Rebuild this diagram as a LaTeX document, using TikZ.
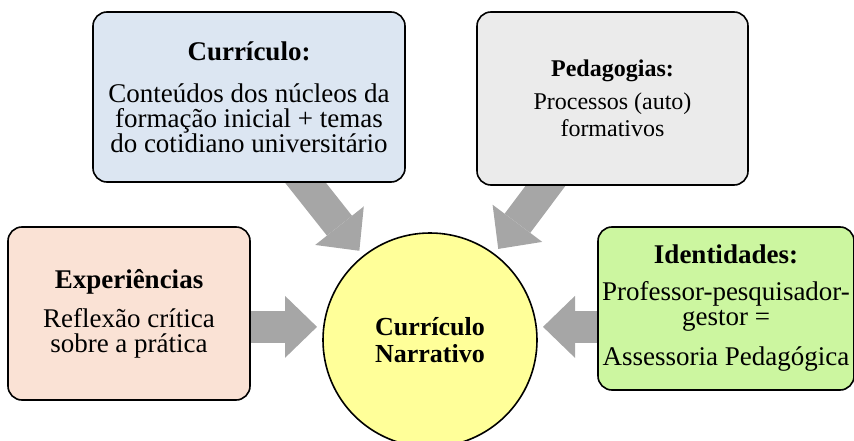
\documentclass[tikz,border=0pt]{standalone}
\usepackage{fontspec}
\setmainfont{Liberation Serif}
\usetikzlibrary{arrows.meta,backgrounds}
\definecolor{currblue}{RGB}{220,230,242}
\definecolor{pedgray}{RGB}{235,235,235}
\definecolor{exppeach}{RGB}{250,226,213}
\definecolor{idgreen}{RGB}{204,246,160}
\definecolor{coreyellow}{RGB}{255,255,153}
\definecolor{flowgray}{RGB}{166,166,166}
\def\tit#1{\textbf{#1}}

\begin{document}
\begin{tikzpicture}[theme/.style={draw, line width=1.6pt, rounded corners=14pt, align=center, inner sep=0pt, font=\fontsize{27}{25}\selectfont}, core/.style={draw, circle, line width=1.6pt, fill=coreyellow, minimum size=214pt, align=center, font=\fontsize{26}{27}\selectfont\bfseries}, flow/.style={color=flowgray, line width=32pt, -{Triangle[length=32pt,width=62pt,line width=0pt]}, shorten >=6pt}]
	\useasboundingbox (0pt,0pt) rectangle (854pt,-441pt);
	\draw (249pt,-97pt)node[theme, fill=currblue, minimum width=312pt, minimum height=170pt](curr){\tit{Currículo:}\\[17pt]Conteúdos dos núcleos da\\formação inicial + temas\\do cotidiano universitário};
	\draw (612.5pt,-98.5pt)node[theme, fill=pedgray, minimum width=271pt, minimum height=173pt, font=\fontsize{24}{27}\selectfont](ped){\tit{Pedagogias:}\\[6pt]Processos (auto)\\formativos};
	\draw (129pt,-313.5pt)node[theme, fill=exppeach, minimum width=242pt, minimum height=173pt](exp){\tit{Experiências}\\[14pt]Reflexão crítica\\sobre a prática};
	\draw (726pt,-308.5pt)node[theme, fill=idgreen, minimum width=256pt, minimum height=163pt](ident){\tit{Identidades:}\\[12pt]Professor-pesquisador-\\gestor =\\[15pt]Assessoria Pedagógica};
	\draw (430pt,-340pt)node[core](circ){Currículo\\Narrativo};
	\begin{scope}[on background layer]
	\path ([xshift=47pt,yshift=12pt]curr.south) edge[flow] (circ);
	\path ([xshift=-58pt,yshift=12pt]ped.south) edge[flow] (circ);
	\path (exp.east |- circ.173) edge[flow] (circ.173);
	\path (ident.west |- circ.7) edge[flow] (circ.7);
	\end{scope}
\end{tikzpicture}
\end{document}
